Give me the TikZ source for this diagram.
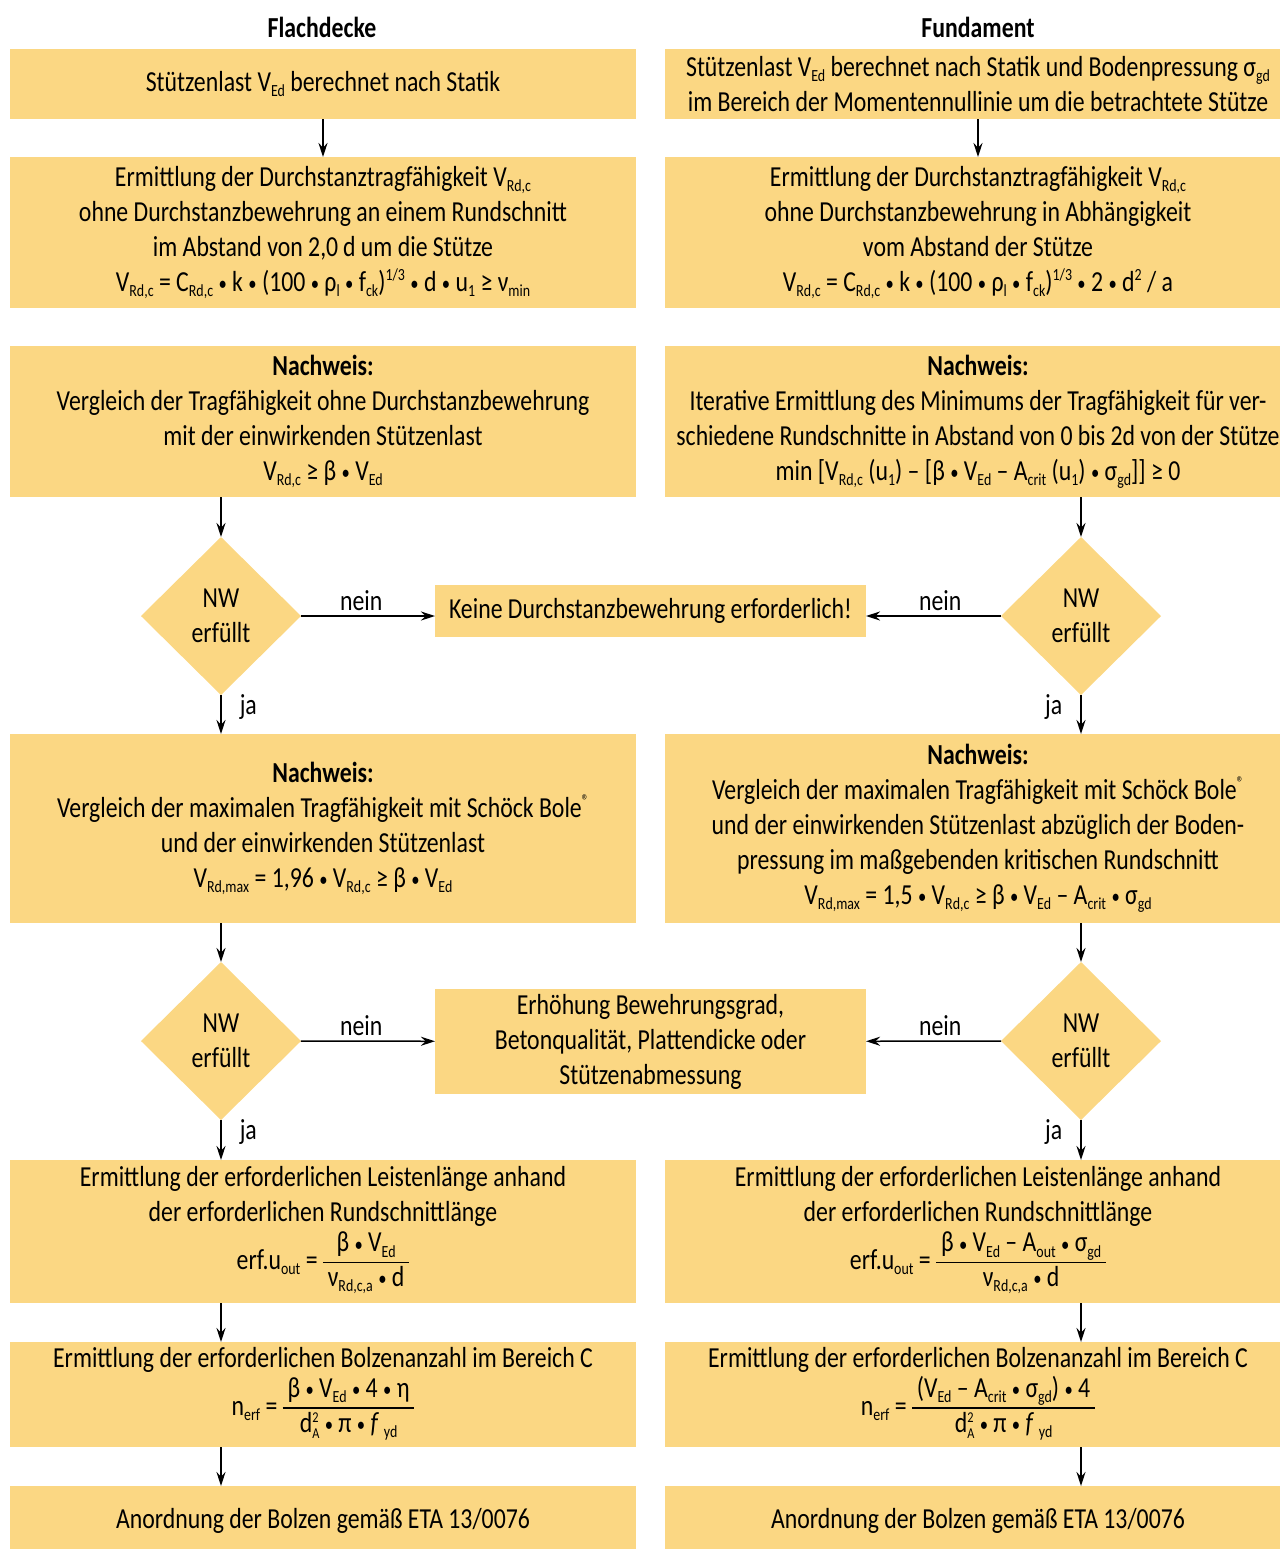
\documentclass[tikz,border=0pt]{standalone}
\usepackage{fontspec}
\setmainfont[FakeStretch=0.82]{Carlito}
\usepackage{tikz}
\usetikzlibrary{shapes.geometric,arrows.meta,positioning}

\definecolor{boxfill}{RGB}{251,215,131}
\newcommand\sbs[1]{\raisebox{-2.6pt}{\fontsize{8.5}{8.5}\selectfont #1}}
\newcommand\sps[1]{\raisebox{5.5pt}{\fontsize{8.5}{8.5}\selectfont #1}}
\newcommand\supsub[2]{\raisebox{-3.2pt}{\fontsize{7.5}{8.5}\selectfont\shortstack[l]{#1\\#2}}}
\newcommand\md{\raisebox{0.4pt}{\scalebox{0.7}{•}}}
\newcommand\frc[2]{{\setlength\arrayrulewidth{0.75pt}\renewcommand\arraystretch{0.95}%
  \begin{tabular}[c]{@{\,}c@{\,}}#1\\\hline #2\end{tabular}}}

\begin{document}
\begin{tikzpicture}[
  x=0.5pt,y=-0.5pt,
  font=\fontsize{14.5}{17.5}\selectfont,
  >={Stealth[length=7pt,width=4.5pt]},
  box/.style={fill=boxfill,minimum width=313pt,align=center,inner sep=0pt,outer sep=0pt},
  mid/.style={fill=boxfill,minimum width=215.5pt,align=center,inner sep=0pt,outer sep=0pt},
  dec/.style={diamond,fill=boxfill,minimum width=80pt,minimum height=79pt,inner sep=0pt,outer sep=0pt,align=center},
  head/.style={font=\fontsize{14.5}{17.5}\selectfont\bfseries},
  arr/.style={->,line width=0.75pt},
  nein/.style={above,inner sep=2.5pt,pos=0.45},
  ja/.style={inner sep=2pt,pos=0.3,xshift=#1}
]
\useasboundingbox (0,0) rectangle (1280,1549);
\clip (0,0) rectangle (1280,1549);

% Spaltenkoepfe
\node[head] (hl) at (322,27) {Flachdecke};
\node[head] (hr) at (978,27) {Fundament};

% linke Spalte: Flachdecke
\node[box,minimum height=35pt] (l1) at (323,84) {Stützenlast V\sbs{Ed} berechnet nach Statik};
\node[box,minimum height=75.5pt,below=19pt of l1] (l2) {Ermittlung der Durchstanztragfähigkeit V\sbs{Rd,c}\\
  ohne Durchstanzbewehrung an einem Rundschnitt\\
  im Abstand von 2,0\,d um die Stütze\\
  V\sbs{Rd,c} = C\sbs{Rd,c} \md{} k \md{} (100 \md{} ρ\sbs{l} \md{} f\sbs{ck})\sps{1/3} \md{} d \md{} u\sbs{1} ≥ ν\sbs{min}};
\node[box,minimum height=75.5pt,below=19pt of l2] (l3) {\textbf{Nachweis:}\\
  Vergleich der Tragfähigkeit ohne Durchstanzbewehrung\\
  mit der einwirkenden Stützenlast\\
  V\sbs{Rd,c} ≥ β \md{} V\sbs{Ed}};
\node[box,minimum height=94.5pt,below=118.5pt of l3] (l4) {\textbf{Nachweis:}\\
  Vergleich der maximalen Tragfähigkeit mit Schöck Bole\sps{®}\\
  und der einwirkenden Stützenlast\\
  V\sbs{Rd,max} = 1,96 \md{} V\sbs{Rd,c} ≥ β \md{} V\sbs{Ed}};
\node[box,minimum height=71.5pt,below=118.5pt of l4] (l5) {Ermittlung der erforderlichen Leistenlänge anhand\\
  der erforderlichen Rundschnittlänge\\
  erf.u\sbs{out} = \frc{β \md{} V\sbs{Ed}}{ν\sbs{Rd,c,a} \md{} d}};
\node[box,minimum height=52.5pt,below=19.5pt of l5] (l6) {Ermittlung der erforderlichen Bolzenanzahl im Bereich C\\
  n\sbs{erf} = \frc{β \md{} V\sbs{Ed} \md{} 4 \md{} η}{d\supsub{2}{A} \md{} π \md{} \textit{f}\,\sbs{yd}}};
\node[box,minimum height=35pt,below=19.5pt of l6] (l7) {Anordnung der Bolzen gemäß ETA 13/0076};

% rechte Spalte: Fundament
\node[box,minimum height=35pt] (r1) at (978,84) {Stützenlast V\sbs{Ed} berechnet nach Statik und Bodenpressung σ\sbs{gd}\\
  im Bereich der Momentennullinie um die betrachtete Stütze};
\node[box,minimum height=75.5pt,below=19pt of r1] (r2) {Ermittlung der Durchstanztragfähigkeit V\sbs{Rd,c}\\
  ohne Durchstanzbewehrung in Abhängigkeit\\
  vom Abstand der Stütze\\
  V\sbs{Rd,c} = C\sbs{Rd,c} \md{} k \md{} (100 \md{} ρ\sbs{l} \md{} f\sbs{ck})\sps{1/3} \md{} 2 \md{} d\sps{2} / a};
\node[box,minimum height=75.5pt,below=19pt of r2] (r3) {\textbf{Nachweis:}\\
  Iterative Ermittlung des Minimums der Tragfähigkeit für ver-\\
  schiedene Rundschnitte in Abstand von 0 bis 2d von der Stütze\\
  min [V\sbs{Rd,c} (u\sbs{1}) – [β \md{} V\sbs{Ed} – A\sbs{crit} (u\sbs{1}) \md{} σ\sbs{gd}]] ≥ 0};
\node[box,minimum height=94.5pt,below=118.5pt of r3] (r4) {\textbf{Nachweis:}\\
  Vergleich der maximalen Tragfähigkeit mit Schöck Bole\sps{®}\\
  und der einwirkenden Stützenlast abzüglich der Boden-\\
  pressung im maßgebenden kritischen Rundschnitt\\
  V\sbs{Rd,max} = 1,5 \md{} V\sbs{Rd,c} ≥ β \md{} V\sbs{Ed} – A\sbs{crit} \md{} σ\sbs{gd}};
\node[box,minimum height=71.5pt,below=118.5pt of r4] (r5) {Ermittlung der erforderlichen Leistenlänge anhand\\
  der erforderlichen Rundschnittlänge\\
  erf.u\sbs{out} = \frc{β \md{} V\sbs{Ed} – A\sbs{out} \md{} σ\sbs{gd}}{ν\sbs{Rd,c,a} \md{} d}};
\node[box,minimum height=52.5pt,below=19.5pt of r5] (r6) {Ermittlung der erforderlichen Bolzenanzahl im Bereich C\\
  n\sbs{erf} = \frc{(V\sbs{Ed} – A\sbs{crit} \md{} σ\sbs{gd}) \md{} 4}{d\supsub{2}{A} \md{} π \md{} \textit{f}\,\sbs{yd}}};
\node[box,minimum height=35pt,below=19.5pt of r6] (r7) {Anordnung der Bolzen gemäß ETA 13/0076};

% Abfragen und Mitte
\node[dec] (ld1) at (221,616) {NW\\erfüllt};
\node[dec] (rd1) at (1081,616) {NW\\erfüllt};
\node[dec] (ld2) at (221,1041) {NW\\erfüllt};
\node[dec] (rd2) at (1081,1041) {NW\\erfüllt};
\node[mid,minimum height=26pt] (m1) at (650.5,611) {Keine Durchstanzbewehrung erforderlich!};
\node[mid,minimum height=52.5pt] (m2) at (650.5,1041.5) {Erhöhung Bewehrungsgrad,\\
  Betonqualität, Plattendicke oder\\
  Stützenabmessung};

% Pfeile
\draw[arr] (l1) -- (l2);
\draw[arr] (r1) -- (r2);
\draw[arr] (l3.south -| ld1) -- (ld1);
\draw[arr] (r3.south -| rd1) -- (rd1);
\draw[arr] (ld1.east) -- node[nein]{nein} (ld1.east -| m1.west);
\draw[arr] (rd1.west) -- node[nein]{nein} (rd1.west -| m1.east);
\draw[arr] (ld1) -- node[right,ja=7pt]{ja} (ld1 |- l4.north);
\draw[arr] (rd1) -- node[left,ja=-7pt]{ja} (rd1 |- r4.north);
\draw[arr] (l4.south -| ld2) -- (ld2);
\draw[arr] (r4.south -| rd2) -- (rd2);
\draw[arr] (ld2) -- node[nein]{nein} (m2);
\draw[arr] (rd2) -- node[nein]{nein} (m2);
\draw[arr] (ld2) -- node[right,ja=7pt]{ja} (ld2 |- l5.north);
\draw[arr] (rd2) -- node[left,ja=-7pt]{ja} (rd2 |- r5.north);
\draw[arr] (l5.south -| ld2) -- (l6.north -| ld2);
\draw[arr] (r5.south -| rd2) -- (r6.north -| rd2);
\draw[arr] (l6.south -| ld2) -- (l7.north -| ld2);
\draw[arr] (r6.south -| rd2) -- (r7.north -| rd2);
\end{tikzpicture}
\end{document}
